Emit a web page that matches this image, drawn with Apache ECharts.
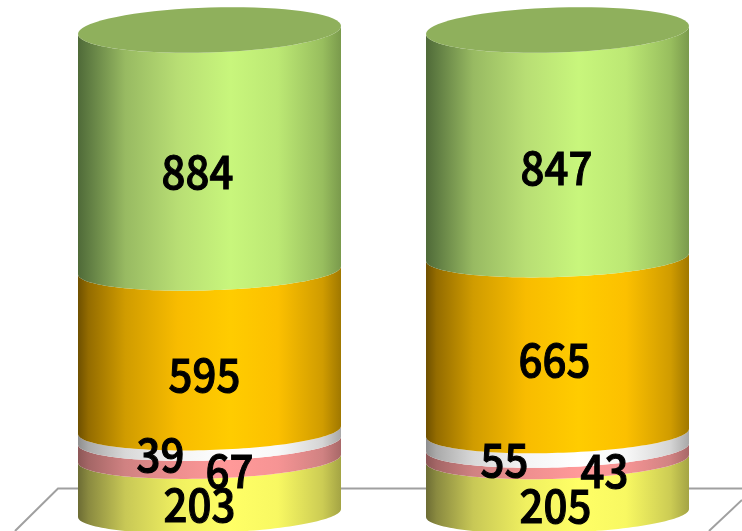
<!DOCTYPE html>
<html><head><meta charset="utf-8">
<style>html,body{margin:0;padding:0;background:#fff}#c{width:742px;height:531px}</style>
<script src="https://cdn.jsdelivr.net/npm/echarts@6/dist/echarts.min.js"></script>
</head><body><div id="c"></div>
<script>
// Data, bottom layer first
const categories = ['A', 'B'];
const yellowValues = [203, 205];
const pinkValues = [67, 43];
const whiteValues = [39, 55];
const orangeValues = [595, 665];
const greenValues = [884, 847];
const layers = [yellowValues, pinkValues, whiteValues, orangeValues, greenValues];

// Label nudges from each segment's middle [dx, dy] per column, bottom layer first
const labelNudges = [
  [[-10, 19], [-2, 20]],
  [[20, 21], [47, 17]],
  [[-49, 19], [-53, 19]],
  [[-5, 24], [-3, 15]],
  [[-12, 19.5], [-1, 22.5]]
];
const stopsAt = [0, 0.04, 0.18, 0.38, 0.58, 0.76, 0.93, 1];
const shades = [
  ['#6c6c34', '#8a8a40', '#c8c856', '#f0f060', '#ffff66', '#f8f862', '#cccc54', '#a4a444'],
  ['#8c5656', '#a46666', '#d08282', '#ee8f8f', '#ff9999', '#f69494', '#d08282', '#a86868'],
  ['#8e8e8e', '#aaaaaa', '#d8d8d8', '#f4f4f4', '#ffffff', '#f8f8f8', '#d4d4d4', '#a8a8a8'],
  ['#6e5000', '#946c00', '#d09c00', '#f8bc00', '#ffcc00', '#fcc000', '#d09c00', '#a07800'],
  ['#4f6a38', '#5f7c42', '#98ba62', '#b8de74', '#c8f67c', '#bce874', '#98be5e', '#7a9a4c']
];
const capColor = '#8fb05c';
const RX = 131.5, RY = 20, CAP_RY = 22.5, SKEW = 4, CAP_LIFT = 3;

const totals = categories.map((_, i) => layers.reduce((s, l) => s + l[i], 0));
const share = (layer, i) => {
  let s = 0;
  for (let k = 0; k <= layer; k++) s += layers[k][i];
  return s / totals[i] * 100;
};

function arc(cx, cy, ry, from, to) {
  const pts = [];
  const n = 72;
  for (let j = 0; j <= n; j++) {
    const t = from + (to - from) * j / n;
    pts.push([cx + RX * Math.cos(t), cy + ry * Math.sin(t) - SKEW * Math.cos(t)]);
  }
  return pts;
}

function makeRender(layer) {
  const isTop = layer === layers.length - 1;
  return function (params, api) {
    const i = params.dataIndex;
    const cx = api.coord([i, 0])[0];
    const yLow = api.coord([i, layer === 0 ? 0 : share(layer - 1, i)])[1];
    let yHigh = api.coord([i, share(layer, i)])[1];
    if (isTop) yHigh -= CAP_LIFT;
    const children = [];
    const pts = arc(cx, yLow, RY, 0, Math.PI).concat(arc(cx, yHigh, isTop ? CAP_RY : RY, Math.PI, 0));
    children.push({
      type: 'polygon',
      shape: { points: pts },
      style: {
        fill: {
          type: 'linear', x: 0, y: 0, x2: 1, y2: 0,
          colorStops: shades[layer].map((c, k) => ({ offset: stopsAt[k], color: c }))
        }
      }
    });
    if (isTop) {
      children.push({
        type: 'polygon',
        shape: { points: arc(cx, yHigh, CAP_RY, 0, Math.PI * 2) },
        style: { fill: capColor }
      });
    }
    return { type: 'group', children };
  };
}

function labelRender(layer) {
  return function (params, api) {
    const i = params.dataIndex;
    const cx = api.coord([i, 0])[0];
    const yLow = api.coord([i, layer === 0 ? 0 : share(layer - 1, i)])[1];
    const yHigh = api.coord([i, share(layer, i)])[1];
    const n = labelNudges[layer][i];
    return {
      type: 'text',
      x: cx + n[0], y: (yLow + yHigh) / 2 + n[1],
      scaleY: 1.1,
      style: {
        text: String(layers[layer][i]),
        x: 0, y: 0,
        align: 'center', verticalAlign: 'middle',
        fontFamily: '"Noto Sans CJK JP"', fontWeight: 500, fontSize: 42,
        fill: '#000', stroke: '#000', lineWidth: 1
      }
    };
  };
}

const series = [];
layers.forEach((vals, layer) => {
  series.push({
    type: 'custom', z: 5, silent: true,
    renderItem: makeRender(layer),
    encode: { x: 0, y: 1 },
    data: vals.map((v, i) => [i, v])
  });
});
layers.forEach((vals, layer) => {
  series.push({
    type: 'custom', z: 8, silent: true,
    renderItem: labelRender(layer),
    encode: { x: 0, y: 1 },
    data: vals.map((v, i) => [i, v])
  });
});

const chart = echarts.init(document.getElementById('c'));
chart.setOption({
  animation: false,
  backgroundColor: '#fff',
  grid: { left: 35.5, width: 696, top: 33, height: 480 },
  xAxis: { type: 'category', data: categories, show: false },
  yAxis: { type: 'value', min: 0, max: 100, show: false },
  graphic: [
    { type: 'polyline', z: 0, shape: { points: [[15, 531], [58, 488.5], [742, 488.5]] },
      style: { stroke: '#a0a0a0', lineWidth: 2, fill: null } },
    { type: 'line', z: 0, shape: { x1: 709, y1: 531, x2: 742, y2: 500 },
      style: { stroke: '#a0a0a0', lineWidth: 2 } }
  ],
  series
});
</script></body></html>
